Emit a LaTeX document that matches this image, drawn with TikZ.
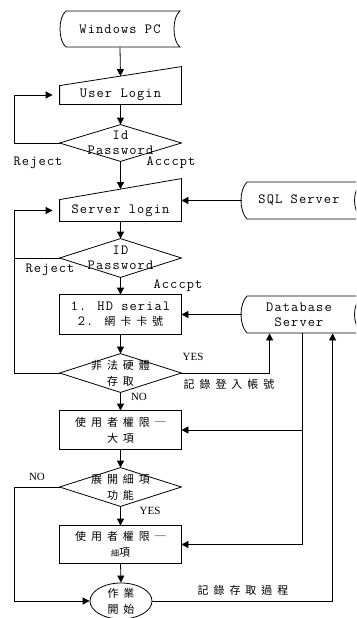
\documentclass[tikz,border=0pt]{standalone}
\usepackage{fontspec}
\setmainfont{Liberation Serif}
\newfontfamily\mono{Latin Modern Mono}[LetterSpace=8]
\newfontfamily\cjk{Noto Sans CJK TC}[LetterSpace=45]
\usetikzlibrary{arrows.meta,calc}
\begin{document}
\begin{tikzpicture}[x=1pt,y=-1pt,line width=0.8pt,
  arr/.style={-{Triangle[length=7pt,width=7pt]}},
  box/.style={draw=none,minimum width=121pt,inner sep=0pt,align=center,font=\mono\fontsize{14}{15}\selectfont},
  cbox/.style={box,font=\cjk\fontsize{11}{16}\selectfont},
  lbl/.style={inner sep=0pt,font=\mono\fontsize{14}{15}\selectfont},
  clbl/.style={inner sep=0pt,font=\cjk\fontsize{11}{15}\selectfont},
  yn/.style={inner sep=0pt,font=\fontsize{11}{13}\selectfont}]
\useasboundingbox (0,0) rectangle (356,618);
\clip (0,0) rectangle (356,618);
% nodes
\node[box,minimum width=120pt,minimum height=36pt] (pc) at (120,29) {Windows PC};
\node[box,minimum height=18pt] (ul) at (120.5,95) {User Login};
\node[box,minimum height=36pt] (d1) at (120.5,143) {Id\\Password};
\node[box,minimum height=21pt] (sl) at (120.5,210.5) {Server login};
\node[box,minimum width=114pt,minimum height=37pt] (sql) at (299,200.5) {SQL Server};
\node[box,minimum height=38pt] (d2) at (120.5,258) {ID\\Password};
\node[box,minimum height=39pt] (b3) at (120.5,314.5) {1. HD serial\\2. {\cjk\fontsize{11}{15}\selectfont 網卡卡號}};
\node[box,minimum width=114pt,minimum height=37pt] (db) at (299,314.5) {Database\\Server};
\node[cbox,minimum height=38pt] (d3) at (120.5,373) {非法硬體\\存取};
\node[cbox,minimum height=38pt] (b4) at (120.5,430) {使用者權限─\\大項};
\node[cbox,minimum height=38pt] (d4) at (120.5,487) {展開細項\\功能};
\node[cbox,minimum height=37pt] (b5) at (120.5,544.5) {使用者權限─\\{\fontsize{8}{15}\selectfont 細}項};
\node[cbox,minimum width=62pt,minimum height=36pt] (f) at (121,601) {作業\\開始};
% outlines
\draw (66,11) -- (180,11) .. controls (172,17) and (172,41) .. (180,47) -- (66,47) .. controls (58,41) and (58,17) .. (66,11) -- cycle;
\draw (ul.north west) -- ($(ul.north east)+(0,-19)$) -- (ul.south east) -- (ul.south west) -- cycle;
\draw (sl.north west) -- ($(sl.north east)+(0,-21)$) -- (sl.south east) -- (sl.south west) -- cycle;
\foreach \d in {d1,d2,d3,d4} \draw (\d.west) -- (\d.north) -- (\d.east) -- (\d.south) -- cycle;
\draw (b3.north west) rectangle (b3.south east);
\draw (b4.north west) rectangle (b4.south east);
\draw (b5.north west) rectangle (b5.south east);
\draw (247,182) -- (362,182) .. controls (352,190) and (352,211) .. (362,219) -- (247,219) .. controls (239,211) and (239,190) .. (247,182) -- cycle;
\draw (247,296) -- (362,296) .. controls (352,304) and (352,325) .. (362,333) -- (247,333) .. controls (239,325) and (239,304) .. (247,296) -- cycle;
\draw (121,601) ellipse [x radius=31, y radius=18];
% connectors
\coordinate (L) at (14,0);
\path ($(db.south west)+(28,0)$) coordinate (v1) ($(db.south west)+(61,0)$) coordinate (v2) ($(db.south west)+(91,0)$) coordinate (v3);
\draw[arr] (pc.south) -- ($(ul.north)+(0,-9.5)$);
\draw[arr] (ul.south) -- (d1.north);
\draw[arr] (d1.south) -- ($(sl.north)+(0,-10.5)$);
\draw[arr] (sl.south) -- (d2.north);
\draw[arr] (d2.south) -- (b3.north);
\draw[arr] (b3.south) -- (d3.north);
\draw[arr] (d3.south) -- (b4.north);
\draw[arr] (b4.south) -- (d4.north);
\draw[arr] (d4.south) -- (b5.north);
\draw[arr] (b5.south) -- (f.north);
\draw[arr,shorten >=7pt] (d1.west) -- (d1.west -| L) |- (ul.west);
\draw[arr,shorten >=7pt] (d3.west) -- (d3.west -| L) |- (sl.west);
\draw (d2.west) -- (d2.west -| L);
\draw[arr] (d4.west) -- (d4.west -| L) |- (f.west);
\draw[arr] (sql.west) -- (sql.west -| sl.east);
\draw[arr] (db.west) -- (b3.east);
\draw[arr] (d3.east) -| (v1);
\draw[arr] (v2) |- (b5.east);
\draw[arr] (v2 |- b4.east) -- (b4.east);
\draw[arr] (f.east) -| (v3);
% labels
\node[lbl] (lr1) at (38,163) {Reject};
\node[lbl] (la1) at (171,163) {Acccpt};
\node[lbl] (lr2) at (50,270) {Reject};
\node[lbl] (la2) at (178,286) {Acccpt};
\node[yn] (ly1) at (193,357) {YES};
\node[clbl] (lrec1) at (229,384) {記錄登入帳號};
\node[yn] (ln1) at (139,397) {NO};
\node[yn] (ln2) at (37,477) {NO};
\node[yn] (ly2) at (150,511) {YES};
\node[clbl] (lrec2) at (243,590) {記錄存取過程};
\end{tikzpicture}
\end{document}
